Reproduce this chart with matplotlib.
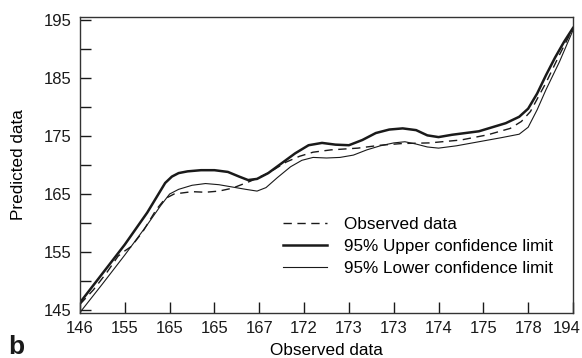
import matplotlib
matplotlib.use("Agg")
import matplotlib.pyplot as plt
import matplotlib.transforms as mtransforms

plt.rcParams["font.family"] = ["Liberation Sans", "DejaVu Sans"]

# x positions are category indices; tick labels are the observed values
tick_labels = ["146", "155", "165", "165", "167", "172", "173", "173",
               "174", "175", "178", "194"]

# Observed data (dashed)
obs_x = [0, 0.3, 0.6, 0.85, 1.0, 1.15, 1.4, 1.7, 1.9, 2.1, 2.5, 2.8, 3.1, 3.4,
         3.8, 4.2, 4.6, 4.9, 5.2, 5.6, 6.2, 6.7, 7.2, 7.8, 8.5, 9.1, 9.6,
         9.85, 10.05, 10.4, 10.7, 11.0]
obs_y = [146.0, 148.5, 151.5, 154.3, 155.2, 156.0, 158.5, 162.3, 164.2, 165.0,
         165.4, 165.3, 165.5, 166.0, 167.2, 168.6, 170.5, 171.5, 172.2, 172.6,
         172.9, 173.4, 173.7, 173.8, 174.3, 175.2, 176.3, 177.5, 179.2, 184.2,
         189.0, 193.5]

# 95% upper confidence limit (thick)
up_x = [0, 0.5, 1.0, 1.5, 1.9, 2.05, 2.2, 2.4, 2.7, 3.0, 3.3, 3.55, 3.75,
        3.95, 4.2, 4.5, 4.8, 5.1, 5.4, 5.7, 6.0, 6.3, 6.6, 6.9, 7.2, 7.5,
        7.75, 8.0, 8.3, 8.6, 8.9, 9.2, 9.5, 9.8, 10.0, 10.2, 10.4, 10.6,
        10.8, 11.0]
up_y = [146.3, 151.3, 156.3, 161.8, 166.9, 168.0, 168.6, 168.9, 169.1, 169.1,
        168.8, 168.0, 167.4, 167.6, 168.6, 170.3, 172.0, 173.4, 173.8, 173.5,
        173.4, 174.3, 175.5, 176.1, 176.3, 176.0, 175.1, 174.8, 175.2, 175.5,
        175.8, 176.5, 177.2, 178.3, 179.7, 182.3, 185.5, 188.5, 191.2, 193.6]

# 95% lower confidence limit (thin)
lo_x = [0, 0.5, 1.0, 1.5, 1.8, 2.0, 2.2, 2.5, 2.8, 3.1, 3.4, 3.7, 3.95, 4.15,
        4.4, 4.7, 4.95, 5.2, 5.5, 5.8, 6.1, 6.4, 6.7, 7.0, 7.25, 7.5, 7.75,
        8.0, 8.4, 8.9, 9.4, 9.8, 10.0, 10.2, 10.4, 10.7, 11.0]
lo_y = [144.6, 149.5, 154.5, 159.7, 163.0, 165.0, 165.8, 166.5, 166.8, 166.6,
        166.2, 165.8, 165.5, 166.1, 167.8, 169.7, 170.8, 171.3, 171.2, 171.3,
        171.7, 172.6, 173.3, 173.8, 174.0, 173.6, 173.1, 172.9, 173.3, 174.0,
        174.7, 175.3, 176.5, 179.5, 183.0, 187.8, 193.2]

INK = "#1a1a1a"

fig = plt.figure(figsize=(5.82, 3.58), dpi=100)
ax = fig.add_axes([0.1375, 0.1257, 0.847, 0.827])

ax.plot(obs_x, obs_y, color=INK, lw=1.0, ls=(0, (6, 4)), label="Observed data")
ax.plot(up_x, up_y, color=INK, lw=1.8, label="95% Upper confidence limit")
ax.plot(lo_x, lo_y, color=INK, lw=0.8, label="95% Lower confidence limit")

ax.set_xlim(0, 11)
ax.set_ylim(144.5, 195.5)
ax.set_xticks(range(len(tick_labels)))
ax.set_xticklabels(tick_labels)
ax.set_yticks(range(145, 196, 5))
ax.set_yticklabels([str(v) if (v - 145) % 10 == 0 else "" for v in range(145, 196, 5)])
ax.tick_params(direction="in", length=8, width=1, labelsize=12, colors=INK, pad=6)

# last x label sits slightly left of its tick, as in the original
last = ax.get_xticklabels()[-1]
last.set_transform(last.get_transform() +
                   mtransforms.ScaledTranslation(-6 / 100, 0, fig.dpi_scale_trans))

for s in ax.spines.values():
    s.set_color("#333333")
    s.set_linewidth(1.0)

ax.set_xlabel("Observed data", fontsize=12.3, labelpad=5)
ax.set_ylabel("Predicted data", fontsize=12.3, labelpad=13)

ax.legend(loc="upper left", bbox_to_anchor=(283 / 582, 1 - 217 / 358),
          bbox_transform=fig.transFigure, frameon=False, borderpad=0,
          borderaxespad=0, fontsize=12.3, handlelength=2.6, labelspacing=0.42,
          handletextpad=1.0)

fig.text(8 / 582, 4 / 358, "b", fontsize=19, fontweight="bold", color=INK)

fig.savefig("out.png", dpi=100)
